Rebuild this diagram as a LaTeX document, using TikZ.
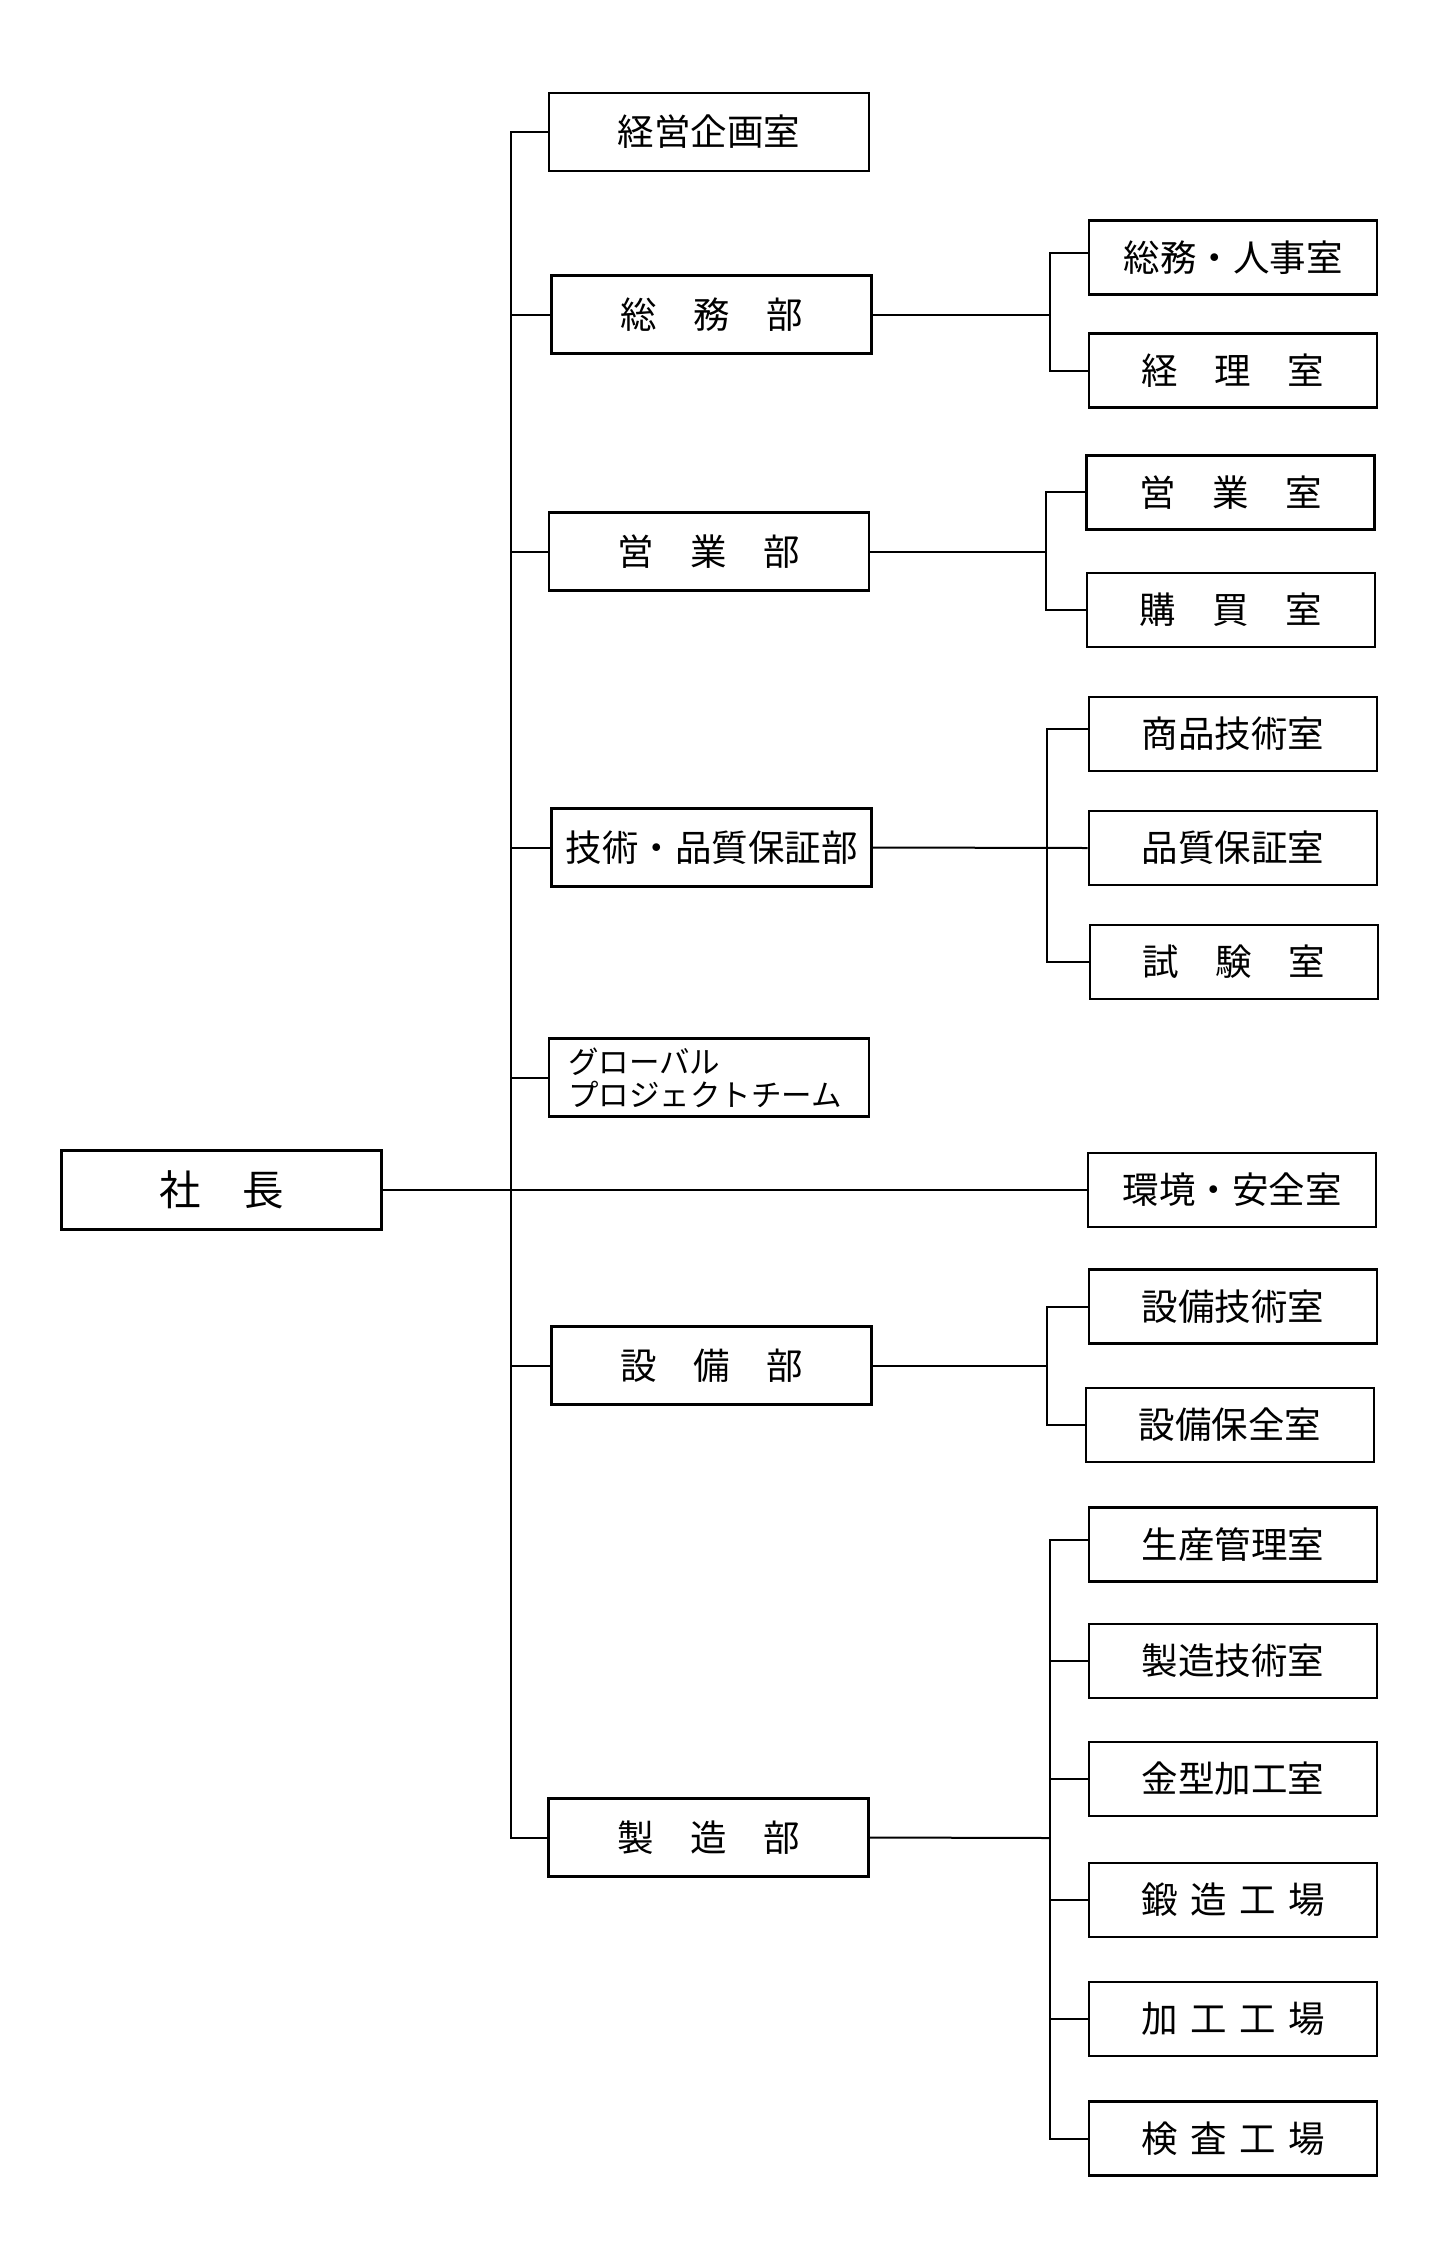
\documentclass[tikz,border=0pt]{standalone}
\usepackage{fontspec}
\newfontfamily\jpfont{Noto Sans CJK JP}
\newcommand{\hgap}{\hspace{12.5pt}}
\begin{document}
\begin{tikzpicture}[x=1pt,y=-1pt,
  box/.style={draw, line width=2.8pt, inner sep=0pt, font=\jpfont\fontsize{36.5}{40}\selectfont},
  dept/.style={box, minimum width=320pt, minimum height=78pt},
  sect/.style={box, minimum width=288pt, minimum height=74pt},
  conn/.style={line width=2pt}]
\useasboundingbox (0,0) rectangle (1440,2268);

% president
\node[box, minimum width=320pt, minimum height=79pt, font=\jpfont\fontsize{41.5}{46}\selectfont] (shacho) at (221.5,1190) {社　長};

% departments
\node[dept] (keiei)   at (709,132)    {経営企画室};
\node[dept] (somu)    at (711.5,314.5) {総　務　部};
\node[dept] (eigyo)   at (709,551.5)  {営　業　部};
\node[dept] (gijutsu) at (711.5,847.5) {技術・品質保証部};
\node[dept, align=left, text width=282pt, font=\jpfont\fontsize{30.5}{33}\selectfont] (global) at (709,1077.5) {グローバル\\プロジェクトチーム};
\node[dept] (setsubi) at (711.5,1365.5) {設　備　部};
\node[dept] (seizo)   at (708.5,1837.5) {製　造　部};

% sections
\node[sect] (s1) at (1233,257.5)  {総務・人事室};
\node[sect] (s2) at (1233,370.5)  {経　理　室};
\node[sect] (e1) at (1230.5,492.4) {営　業　室};
\node[sect] (e2) at (1231,610)    {購　買　室};
\node[sect] (g1) at (1233,734)    {商品技術室};
\node[sect] (g2) at (1233,848)    {品質保証室};
\node[sect] (g3) at (1234,962)    {試　験　室};
\node[sect] (kankyo) at (1232,1190) {環境・安全室};
\node[sect] (t1) at (1233,1306.7) {設備技術室};
\node[sect] (t2) at (1230,1425)   {設備保全室};
\node[sect] (m1) at (1233,1544.5) {生産管理室};
\node[sect] (m2) at (1233,1661)   {製造技術室};
\node[sect] (m3) at (1233,1779)   {金型加工室};
\node[sect] (m4) at (1233,1900)   {鍛\hgap 造\hgap 工\hgap 場};
\node[sect] (m5) at (1233,2019)   {加\hgap 工\hgap 工\hgap 場};
\node[sect] (m6) at (1233,2138.5) {検\hgap 査\hgap 工\hgap 場};

% branch points
\coordinate (trunk) at (511,1190);
\coordinate (bS) at (1050,314.5);
\coordinate (bE) at (1046,551.5);
\coordinate (bG) at (1047,847.5);
\coordinate (bT) at (1047,1365.5);
\coordinate (bM) at (1050,1838);

% main trunk
\draw[conn] (keiei.west) -| (trunk) |- (seizo.west);
\draw[conn] (shacho.east) -- (kankyo.west);
\foreach \d in {somu,eigyo,gijutsu,global,setsubi}
  \draw[conn] (\d.west) -- (\d.west -| trunk);

% 総務部
\draw[conn] (somu.east) -- (bS);
\draw[conn] ([yshift=5pt]s1.west) -| (bS) |- (s2.west);
% 営業部
\draw[conn] (eigyo.east) -- (bE);
\draw[conn] (e1.west) -| (bE) |- (e2.west);
% 技術・品質保証部
\draw[conn] (gijutsu.east) -- (g2.west);
\draw[conn] ([yshift=5pt]g1.west) -| (bG) |- (g3.west);
% 設備部
\draw[conn] (setsubi.east) -- (bT);
\draw[conn] (t1.west) -| (bT) |- (t2.west);
% 製造部
\draw[conn] (seizo.east) -- (bM);
\draw[conn] ([yshift=5pt]m1.west) -| (bM) |- (m6.west);
\foreach \m in {m2,m3,m4,m5}
  \draw[conn] (\m.west) -- (\m.west -| bM);
\end{tikzpicture}
\end{document}
